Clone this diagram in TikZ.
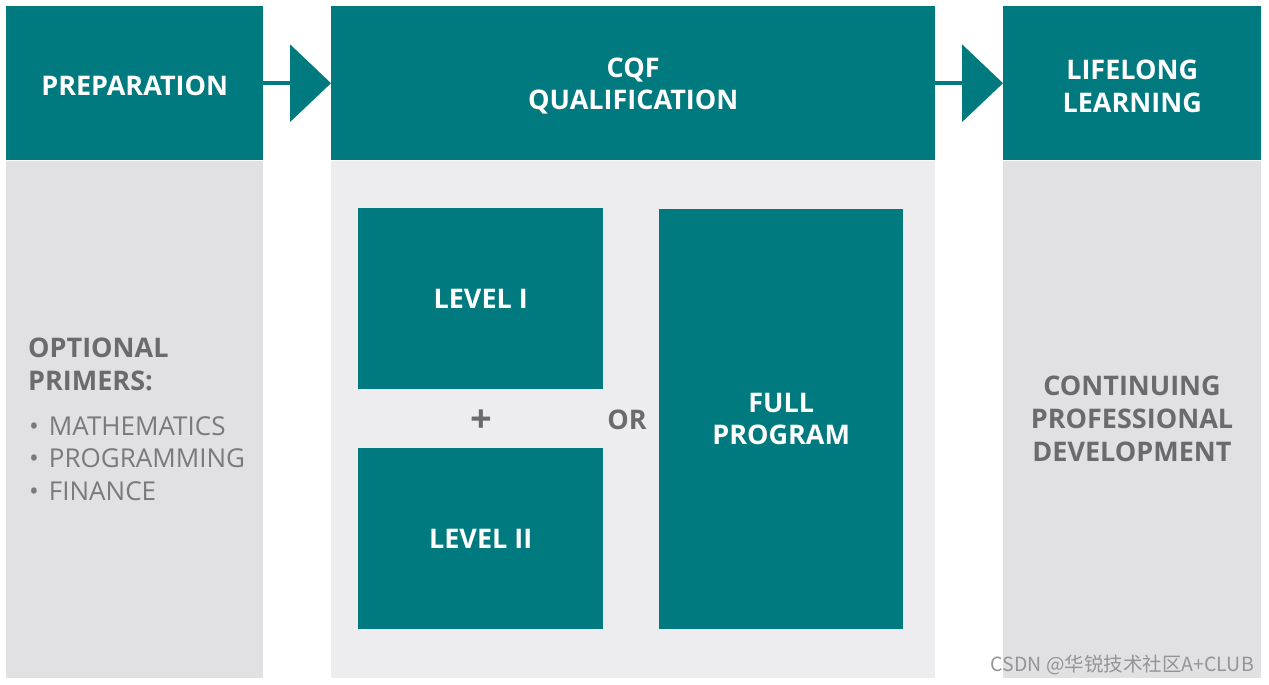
\documentclass[tikz,border=0pt]{standalone}
\usepackage{fontspec}
\setmainfont{Open Sans}
\newfontfamily\cjk{Noto Sans CJK SC}
\usepackage{xcolor}
\usetikzlibrary{arrows.meta, positioning}

\definecolor{cqfteal}{HTML}{007A7E}
\definecolor{sidegray}{HTML}{E1E1E3}
\definecolor{midgray}{HTML}{EDEDF0}
\definecolor{textgray}{HTML}{6B6B6D}
\definecolor{listgray}{HTML}{7A7A7C}

\begin{document}
\begin{tikzpicture}[
    x=1pt, y=-1pt,
    head/.style={fill=cqfteal, inner sep=0pt, minimum height=154pt, anchor=north west},
    headtext/.style={text=white, inner sep=0pt, align=center,
        font=\fontsize{27}{32.5}\selectfont\bfseries},
    panel/.style={inner sep=0pt, minimum height=517pt},
    block/.style={fill=cqfteal, text=white, inner sep=0pt, anchor=north west,
        align=center, font=\fontsize{27}{32.5}\selectfont\bfseries},
    greytext/.style={text=textgray, inner sep=0pt, font=\fontsize{27}{33}\selectfont\bfseries},
    flow/.style={cqfteal, line width=4pt, -{Triangle[length=41pt, width=77pt]}}
]
    \useasboundingbox[fill=white] (0,0) rectangle (1269,685);

    % top row
    \node[head, minimum width=257pt] (prep) at (6,6) {};
    \node[head, minimum width=604pt] (cqf) at (331,6) {};
    \node[head, minimum width=258pt] (life) at (1003,6) {};
    \node[headtext] (preptitle) at ([yshift=-3pt]prep.center) {PREPARATION};
    \node[headtext] (cqftitle) at ([yshift=-3pt]cqf.center) {CQF\\QUALIFICATION};
    \node[headtext] (lifetitle) at ([yshift=-3pt]life.center) {LIFELONG\\LEARNING};

    % panels under the headers
    \node[panel, fill=sidegray, minimum width=257pt, below=0pt of prep] (prepbody) {};
    \node[panel, fill=midgray, minimum width=604pt, below=0pt of cqf] (cqfbody) {};
    \node[panel, fill=sidegray, minimum width=258pt, below=0pt of life] (lifebody) {};

    \draw[flow] (prep) -- (cqf);
    \draw[flow] (cqf) -- (life);

    % preparation
    \node[greytext, anchor=north west, align=left] (primers) at (28,338) {OPTIONAL\\PRIMERS:};
    \node[anchor=north west, inner sep=0pt, align=left, text=listgray,
        font=\fontsize{26}{32.5}\selectfont] (topics) at (29,416)
        {\textbullet\hspace{10pt}MATHEMATICS\\\textbullet\hspace{10pt}PROGRAMMING\\\textbullet\hspace{10pt}FINANCE};

    % qualification routes
    \node[block, minimum width=245pt, minimum height=181pt] (lvl1) at (358,208) {LEVEL I};
    \node[block, minimum width=245pt, minimum height=181pt] (lvl2) at (358,448) {LEVEL II};
    \node[block, minimum width=244pt, minimum height=420pt] (full) at (659,209) {FULL\\PROGRAM};
    \node[greytext, font=\fontsize{38}{38}\selectfont\bfseries] (plus) at (481,421) {+};
    \node[greytext] (or) at (627,420) {OR};

    % lifelong learning
    \node[greytext, align=center] (cpd) at (1132,419) {CONTINUING\\PROFESSIONAL\\DEVELOPMENT};

    \node[anchor=east, inner sep=0pt, text=black!42, font=\cjk\fontsize{19.5}{19.5}\selectfont] (mark) at (1254,665) {CSDN @华锐技术社区A+CLUB};
\end{tikzpicture}
\end{document}
